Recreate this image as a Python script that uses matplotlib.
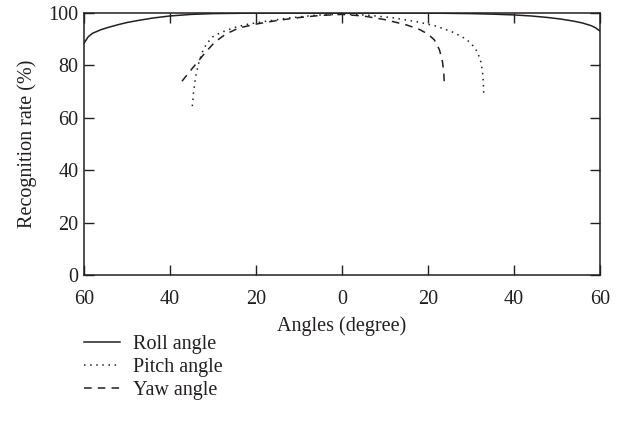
import numpy as np
import matplotlib.pyplot as plt

plt.rcParams['font.family'] = ['Liberation Serif', 'DejaVu Serif']

# x < 0 is the left half of the axis
roll_x = [-60, -59, -58, -56, -54, -52, -50, -47, -44, -40, -35, -30, -20, -10, 0, 10, 20, 30, 35, 40, 44, 48, 51, 54, 56, 58, 59, 60]
roll_y = [88.5, 91.0, 92.3, 93.7, 94.7, 95.6, 96.4, 97.3, 98.1, 98.9, 99.5, 99.8, 100, 100, 100, 100, 100, 99.8, 99.6, 99.3, 98.9, 98.3, 97.7, 96.9, 96.2, 95.2, 94.4, 93.2]

pitch_x = [-34.8, -34.5, -34.0, -33.3, -32.5, -31.5, -30.0, -28.0, -25.0, -22.0, -18.0, -12.0, -6.0, 0, 6.0, 12.0, 18.0, 22.0, 26.0, 29.0, 31.0, 32.2, 32.7, 32.9, 33.0]
pitch_y = [64.5, 70.0, 76.0, 81.0, 85.0, 88.3, 91.0, 92.7, 94.5, 95.7, 96.8, 98.2, 99.2, 99.6, 99.2, 98.2, 96.5, 95.0, 92.6, 90.0, 86.7, 82.5, 78.0, 74.0, 69.5]

yaw_x = [-37.2, -35.5, -33.5, -31.5, -29.5, -27.0, -24.0, -20.0, -15.0, -10.0, -5.0, 0, 5.0, 10.0, 15.0, 18.0, 20.0, 21.5, 22.7, 23.4, 23.7, 23.8]
yaw_y = [74.0, 77.5, 81.5, 85.5, 89.0, 92.0, 94.3, 95.8, 97.2, 98.3, 99.1, 99.5, 98.9, 97.5, 95.5, 93.8, 92.0, 89.8, 86.0, 81.5, 77.5, 74.0]

x_ticks = [-60, -40, -20, 0, 20, 40, 60]
x_labels = ['60', '40', '20', '0', '20', '40', '60']
y_ticks = [0, 20, 40, 60, 80, 100]

ink = '#231f20'
fs = 14.5

fig = plt.figure(figsize=(6.34, 4.36), dpi=100)
ax = fig.add_axes([0.1325, 0.369, 0.8135, 0.601])

ax.plot(roll_x, roll_y, color=ink, lw=1.1, ls='-', label='Roll angle')
ax.plot(pitch_x, pitch_y, color=ink, lw=1.1, ls=(0, (1, 3)), label='Pitch angle')
ax.plot(yaw_x, yaw_y, color=ink, lw=1.1, ls=(0, (5, 4)), label='Yaw angle')

ax.set_xlim(-60, 60)
ax.set_ylim(0, 100)
ax.set_xticks(x_ticks)
ax.set_xticklabels(x_labels)
ax.set_yticks(y_ticks)
ax.tick_params(direction='in', length=7, width=1, top=True, right=True,
               labelsize=fs, colors=ink)
ax.tick_params(axis='x', pad=11)
ax.tick_params(axis='y', pad=4)
for s in ax.spines.values():
    s.set_linewidth(1.1)
    s.set_color(ink)

ax.set_xlabel('Angles (degree)', fontsize=fs, color=ink, labelpad=5)
ax.set_ylabel('Recognition rate (%)', fontsize=fs, color=ink, labelpad=8)

ax.legend(loc='upper left', bbox_to_anchor=(0, -0.227), frameon=False,
          fontsize=fs, handlelength=1.8, handletextpad=0.65, labelspacing=0.2,
          borderpad=0, borderaxespad=0, labelcolor=ink)

fig.savefig('out.png', dpi=100)
